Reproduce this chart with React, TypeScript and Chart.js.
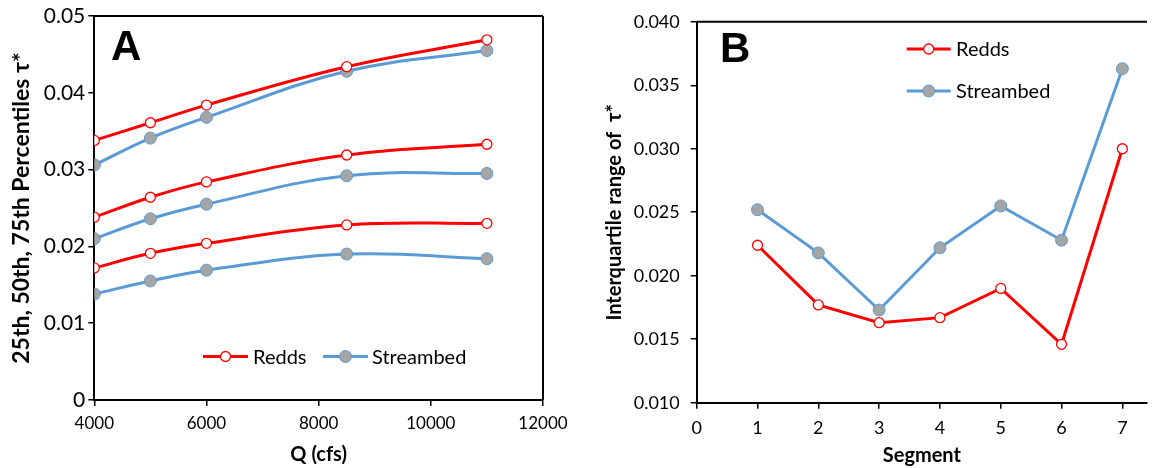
import { useEffect, useRef } from "react";
import { Chart, registerables } from "chart.js";

Chart.register(...registerables);

// ---- Panel A data ----
const qFlows = [4000, 5000, 6000, 8500, 11000];
const redds75 = [0.0338, 0.0361, 0.0384, 0.0434, 0.0469];
const stream75 = [0.0306, 0.0341, 0.0368, 0.0428, 0.0455];
const redds50 = [0.0238, 0.0264, 0.0284, 0.0319, 0.0333];
const stream50 = [0.021, 0.0236, 0.0255, 0.0292, 0.0295];
const redds25 = [0.0172, 0.0191, 0.0204, 0.0228, 0.023];
const stream25 = [0.0138, 0.0155, 0.0169, 0.019, 0.0184];

// ---- Panel B data ----
const segments = [1, 2, 3, 4, 5, 6, 7];
const reddsIQR = [0.0224, 0.0177, 0.0163, 0.0167, 0.019, 0.0146, 0.03];
const streamIQR = [0.0252, 0.0218, 0.0173, 0.0222, 0.0255, 0.0228, 0.0363];

const legendLabels = ["Redds", "Streambed"];

const RED = "#FF0000";
const BLUE = "#5B9BD5";
const GRAY = "#A5A5A5";
const FONT = "Lato, 'Open Sans', sans-serif";

const reddsStyle = {
  borderColor: RED,
  borderWidth: 3,
  pointBackgroundColor: "#FFFFFF",
  pointBorderColor: RED,
  pointRadius: 5,
  pointBorderWidth: 1.3,
};
const streamStyle = {
  borderColor: BLUE,
  borderWidth: 3,
  pointBackgroundColor: GRAY,
  pointBorderColor: BLUE,
  pointRadius: 6,
  pointBorderWidth: 1,
};

const toXY = (xs: number[], ys: number[]) => xs.map((x, i) => ({ x, y: ys[i] }));

type LegendItem = { x1: number; x2: number; y: number; textX: number; text: string; style: any };

function makeDecorPlugin(
  letter: string,
  letterX: number,
  letterY: number,
  legend: LegendItem[],
  frameSides: { top: boolean; right: boolean }
) {
  return {
    id: "decor_" + letter,
    afterDraw(chart: any) {
      const ctx = chart.ctx;
      const a = chart.chartArea;
      ctx.save();
      ctx.strokeStyle = "#000";
      ctx.lineWidth = 2;
      ctx.beginPath();
      if (frameSides.top) {
        ctx.moveTo(a.left, a.top);
        ctx.lineTo(a.right, a.top);
      }
      if (frameSides.right) {
        ctx.moveTo(a.right, a.top);
        ctx.lineTo(a.right, a.bottom);
      }
      ctx.stroke();
      ctx.fillStyle = "#000";
      ctx.font = "bold 42px 'Liberation Sans', Arial, sans-serif";
      ctx.textBaseline = "alphabetic";
      ctx.textAlign = "left";
      ctx.fillText(letter, letterX, letterY);
      ctx.font = "20px " + FONT;
      ctx.textBaseline = "middle";
      for (const it of legend) {
        const s = it.style;
        ctx.strokeStyle = s.borderColor;
        ctx.lineWidth = s.borderWidth;
        ctx.beginPath();
        ctx.moveTo(it.x1, it.y);
        ctx.lineTo(it.x2, it.y);
        ctx.stroke();
        ctx.beginPath();
        ctx.arc((it.x1 + it.x2) / 2, it.y, s.pointRadius, 0, Math.PI * 2);
        ctx.fillStyle = s.pointBackgroundColor;
        ctx.fill();
        ctx.lineWidth = s.pointBorderWidth;
        ctx.strokeStyle = s.pointBorderColor;
        ctx.stroke();
        ctx.fillStyle = "#000";
        ctx.fillText(it.text, it.textX, it.y + 1);
      }
      ctx.restore();
    },
  };
}

function axisCommon() {
  return {
    grid: {
      display: true,
      drawOnChartArea: false,
      drawTicks: true,
      tickLength: 6,
      color: "#000",
      lineWidth: 1.5,
    },
    border: { display: true, color: "#000", width: 2 },
  };
}

function PanelA() {
  const ref = useRef<HTMLCanvasElement>(null);
  useEffect(() => {
    if (!ref.current) return;
    const datasets = [
      { label: legendLabels[0], data: toXY(qFlows, redds75), ...reddsStyle },
      { label: legendLabels[1], data: toXY(qFlows, stream75), ...streamStyle },
      { label: legendLabels[0], data: toXY(qFlows, redds50), ...reddsStyle },
      { label: legendLabels[1], data: toXY(qFlows, stream50), ...streamStyle },
      { label: legendLabels[0], data: toXY(qFlows, redds25), ...reddsStyle },
      { label: legendLabels[1], data: toXY(qFlows, stream25), ...streamStyle },
    ].map((d) => ({ ...d, tension: 0.4, fill: false }));
    const chart = new Chart(ref.current, {
      type: "line",
      data: { datasets },
      options: {
        responsive: false,
        animation: false,
        layout: { padding: { top: 16, right: 37, left: 0, bottom: 0 } },
        plugins: { legend: { display: false }, tooltip: { enabled: false } },
        scales: {
          x: {
            type: "linear",
            min: 4000,
            max: 12000,
            ...axisCommon(),
            ticks: {
              stepSize: 2000,
              color: "#000",
              font: { family: FONT, size: 17 },
              padding: 7,
              maxRotation: 0,
              callback: (v: any) => String(Math.round(Number(v))),
            },
            title: {
              display: true,
              text: "Q (cfs)",
              color: "#000",
              font: { family: FONT, size: 20, weight: "bold" },
              padding: { top: 0, bottom: 1 },
            },
            afterFit: (s: any) => {
              s.height = 68;
            },
          },
          y: {
            type: "linear",
            min: 0,
            max: 0.05,
            ...axisCommon(),
            ticks: {
              stepSize: 0.01,
              color: "#000",
              font: { family: FONT, size: 21 },
              padding: 3,
              callback: (v: any) => (Math.abs(v) < 1e-9 ? "0" : Number(v).toFixed(2)),
            },
            title: {
              display: true,
              text: "25th, 50th, 75th Percentiles τ*",
              color: "#000",
              font: { family: FONT, size: 23, weight: "bold" },
              padding: { top: 8, bottom: 0 },
            },
            afterFit: (s: any) => {
              s.width = 94.3;
            },
          },
        },
      } as any,
      plugins: [
        makeDecorPlugin(
          "A",
          111,
          60,
          [
            { x1: 203, x2: 248, y: 356.5, textX: 253, text: legendLabels[0], style: reddsStyle },
            { x1: 323, x2: 368, y: 356.5, textX: 372, text: legendLabels[1], style: streamStyle },
          ],
          { top: true, right: true }
        ),
      ],
    });
    return () => chart.destroy();
  }, []);
  return (
    <canvas
      ref={ref}
      width={580}
      height={468}
      style={{ position: "absolute", left: 0, top: 0, width: 580, height: 468 }}
    />
  );
}

function PanelB() {
  const ref = useRef<HTMLCanvasElement>(null);
  useEffect(() => {
    if (!ref.current) return;
    const datasets = [
      { label: legendLabels[0], data: toXY(segments, reddsIQR), ...reddsStyle },
      { label: legendLabels[1], data: toXY(segments, streamIQR), ...streamStyle },
    ].map((d) => ({ ...d, tension: 0, fill: false }));
    const chart = new Chart(ref.current, {
      type: "line",
      data: { datasets },
      options: {
        responsive: false,
        animation: false,
        layout: { padding: { top: 20, right: 0, left: 0, bottom: 0 } },
        plugins: { legend: { display: false }, tooltip: { enabled: false } },
        scales: {
          x: {
            type: "linear",
            min: 0,
            max: 7.405,
            ...axisCommon(),
            ticks: {
              stepSize: 1,
              includeBounds: false,
              color: "#000",
              font: { family: FONT, size: 18 },
              padding: 9,
              maxRotation: 0,
            },
            afterBuildTicks: (s: any) => {
              s.ticks = s.ticks.filter((t: any) => Math.abs(t.value - Math.round(t.value)) < 1e-9);
            },
            title: {
              display: true,
              text: "Segment",
              color: "#000",
              font: { family: FONT, size: 20, weight: "bold" },
              padding: { top: 0, bottom: 0 },
            },
            afterFit: (s: any) => {
              s.height = 65.3;
            },
          },
          y: {
            type: "linear",
            min: 0.01,
            max: 0.04,
            ...axisCommon(),
            ticks: {
              stepSize: 0.005,
              color: "#000",
              font: { family: FONT, size: 18 },
              padding: 11,
              callback: (v: any) => Number(v).toFixed(3),
            },
            title: {
              display: true,
              text: "Interquartile range of  τ*",
              color: "#000",
              font: { family: FONT, size: 20, weight: "bold" },
              padding: { top: 23, bottom: 0 },
            },
            afterFit: (s: any) => {
              s.width = 116.7;
            },
          },
        },
      } as any,
      plugins: [
        makeDecorPlugin(
          "B",
          140,
          61.5,
          [
            { x1: 326.7, x2: 370.7, y: 49, textX: 376, text: legendLabels[0], style: reddsStyle },
            { x1: 326.7, x2: 370.7, y: 91, textX: 376, text: legendLabels[1], style: streamStyle },
          ],
          { top: true, right: false }
        ),
      ],
    });
    return () => chart.destroy();
  }, []);
  return (
    <canvas
      ref={ref}
      width={574}
      height={468}
      style={{ position: "absolute", left: 580, top: 0, width: 574, height: 468 }}
    />
  );
}

export default function App() {
  return (
    <div
      style={{
        position: "absolute",
        left: 0,
        top: 0,
        width: 1154,
        height: 468,
        background: "#FFFFFF",
        overflow: "hidden",
      }}
    >
      <PanelA />
      <PanelB />
    </div>
  );
}
